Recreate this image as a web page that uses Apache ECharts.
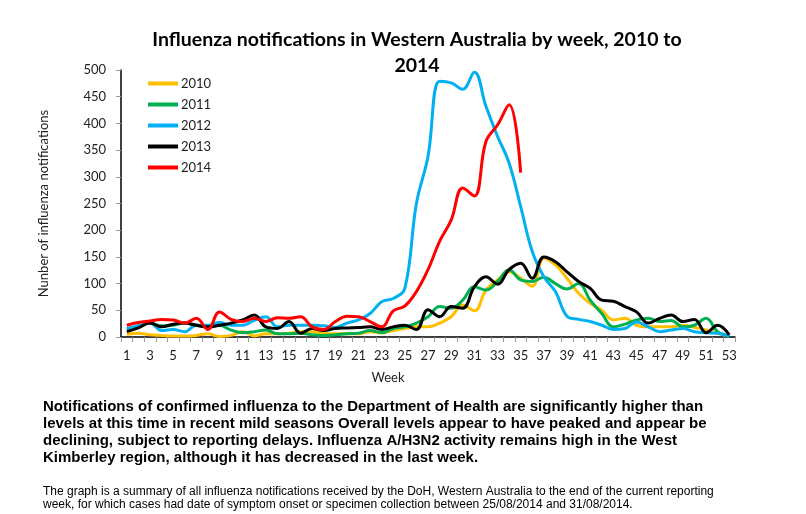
<!DOCTYPE html>
<html>
<head>
<meta charset="utf-8">
<script src="https://cdn.jsdelivr.net/npm/echarts@6/dist/echarts.min.js"></script>
<style>
    html, body { margin: 0; padding: 0; background: #fff; }
    #chart { width: 806px; height: 514px; }
</style>
</head>
<body>
<div id="chart"></div>
<script>
// week numbers on the category axis
var weeks = ['1','2','3','4','5','6','7','8','9','10','11','12','13','14','15','16','17','18',
    '19','20','21','22','23','24','25','26','27','28','29','30','31','32','33','34','35','36',
    '37','38','39','40','41','42','43','44','45','46','47','48','49','50','51','52','53'];

// weekly notifications
var y2010 = [5, 7, 4, 3, 2, 2, 3, 6, 1, 3, 10, 2, 6, 6, 7, 10, 10, 7,
    6, 6, 6, 10, 8, 12, 16, 19, 19, 26, 38, 60, 49, 88, 107, 122, 110, 95,
    148, 135, 110, 82, 63, 50, 32, 35, 22, 19, 19, 19, 22, 18, 13, 7, 2];
var y2011 = [14, 19, 26, 21, 22, 26, 22, 19, 22, 13, 8, 10, 13, 6, 6, 7, 4, 3,
    4, 6, 7, 12, 8, 16, 19, 26, 38, 57, 54, 69, 94, 88, 104, 126, 107, 104,
    112, 100, 90, 100, 69, 44, 19, 24, 32, 35, 29, 31, 19, 22, 35, 10, 2];
var y2012 = [16, 21, 26, 12, 14, 10, 22, 22, 27, 22, 22, 31, 38, 19, 22, 22, 22, 21,
    18, 26, 32, 44, 66, 72, 91, 250, 338, 479, 476, 464, 496, 432, 376, 326, 244, 160,
    113, 85, 39, 33, 29, 22, 14, 16, 28, 19, 10, 13, 16, 10, 8, 7, 1];
var y2013 = [10, 17, 26, 19, 24, 26, 22, 19, 22, 26, 32, 41, 19, 16, 29, 7, 16, 12,
    16, 17, 18, 19, 14, 19, 22, 14, 51, 38, 57, 54, 94, 113, 99, 126, 138, 110,
    150, 141, 122, 104, 91, 69, 67, 57, 47, 26, 35, 41, 29, 33, 8, 22, 4];
var y2014 = [22, 27, 30, 33, 32, 26, 35, 14, 47, 33, 29, 35, 29, 36, 35, 38, 19, 14,
    29, 39, 38, 29, 19, 49, 58, 85, 126, 179, 219, 279, 264, 366, 397, 435, 308];

var yTicks = [0, 50, 100, 150, 200, 250, 300, 350, 400, 450, 500];

var names = ['2010', '2011', '2012', '2013', '2014'];
var colors = ['#FFC000', '#00B050', '#00B0F0', '#000000', '#FF0000'];
var values = [y2010, y2011, y2012, y2013, y2014];

var titleLine1 = 'Influenza notifications in Western Australia by week, 2010 to';
var titleLine2 = '2014';
var noteText = 'Notifications of confirmed influenza to the Department of Health are significantly higher than\n' +
    'levels at this time in recent mild seasons Overall levels appear to have peaked and appear be\n' +
    'declining, subject to reporting delays. Influenza A/H3N2 activity remains high in the West\n' +
    'Kimberley region, although it has decreased in the last week.';
var smallText = 'The graph is a summary of all influenza notifications received by the DoH, Western Australia to the end of the current reporting\n' +
    'week, for which cases had date of symptom onset or specimen collection between 25/08/2014 and 31/08/2014.';

var labelFont = 'Lato';

// size the title so its first line is about as wide as in the original (~528px)
var titleSize = 18;
(function () {
    var ctx = document.createElement('canvas').getContext('2d');
    ctx.font = 'bold 20px ' + labelFont;
    var w = ctx.measureText(titleLine1).width;
    if (w > 0) titleSize = Math.round(20 * 528 / w * 2) / 2;
})();

var chart = echarts.init(document.getElementById('chart'), null, {renderer: 'canvas'});

var series = [];
for (var i = 0; i < names.length; i++) {
    series.push({
        name: names[i],
        type: 'line',
        data: values[i],
        smooth: 0.4,
        symbol: 'none',
        lineStyle: {color: colors[i], width: 3},
        itemStyle: {color: colors[i]},
        z: 2 + i
    });
}

var option = {
    animation: false,
    backgroundColor: '#fff',
    title: {
        text: titleLine1 + '\n' + titleLine2,
        left: 412,
        top: 22,
        textAlign: 'center',
        textStyle: {
            fontFamily: labelFont,
            fontWeight: 'bold',
            fontSize: titleSize,
            lineHeight: 26,
            color: '#000'
        }
    },
    legend: {
        data: names,
        orient: 'vertical',
        left: 143,
        top: 72,
        icon: 'rect',
        itemWidth: 30,
        itemHeight: 4,
        itemGap: 8,
        textStyle: {fontFamily: labelFont, fontSize: 13, color: '#222', padding: [0, 0, 0, -2]}
    },
    grid: {
        left: 121,
        top: 70,
        width: 614,
        height: 267,
        containLabel: false
    },
    xAxis: {
        type: 'category',
        data: weeks,
        boundaryGap: true,
        name: 'Week',
        nameLocation: 'middle',
        nameGap: 34,
        nameTextStyle: {fontFamily: labelFont, fontSize: 13, color: '#222', padding: [0, 80, 0, 0]},
        axisLine: {lineStyle: {color: '#000', width: 1.5}},
        axisTick: {show: true, interval: 0, alignWithLabel: false, length: 5, lineStyle: {color: '#999'}},
        axisLabel: {interval: 1, margin: 12, fontFamily: labelFont, fontSize: 13, color: '#222'},
        splitLine: {show: false}
    },
    yAxis: {
        type: 'value',
        min: yTicks[0],
        max: yTicks[yTicks.length - 1],
        interval: 50,
        name: 'Nunber of influenza notifications',
        nameLocation: 'middle',
        nameGap: 71,
        nameTextStyle: {fontFamily: labelFont, fontSize: 13, color: '#222'},
        axisLine: {show: true, lineStyle: {color: '#000', width: 1.5}},
        axisTick: {show: true, length: 5, lineStyle: {color: '#999'}},
        axisLabel: {margin: 15, fontFamily: labelFont, fontSize: 13, color: '#222'},
        splitLine: {show: false}
    },
    graphic: [
        {
            type: 'text',
            left: 43,
            top: 398,
            style: {
                text: noteText,
                fontFamily: 'Liberation Sans',
                fontWeight: 'bold',
                fontSize: 15,
                lineHeight: 17,
                fill: '#000'
            }
        },
        {
            type: 'text',
            left: 43,
            top: 485,
            style: {
                text: smallText,
                fontFamily: 'Liberation Sans',
                fontSize: 12,
                lineHeight: 13,
                fill: '#000'
            }
        }
    ],
    series: series
};

chart.setOption(option);
</script>
</body>
</html>
